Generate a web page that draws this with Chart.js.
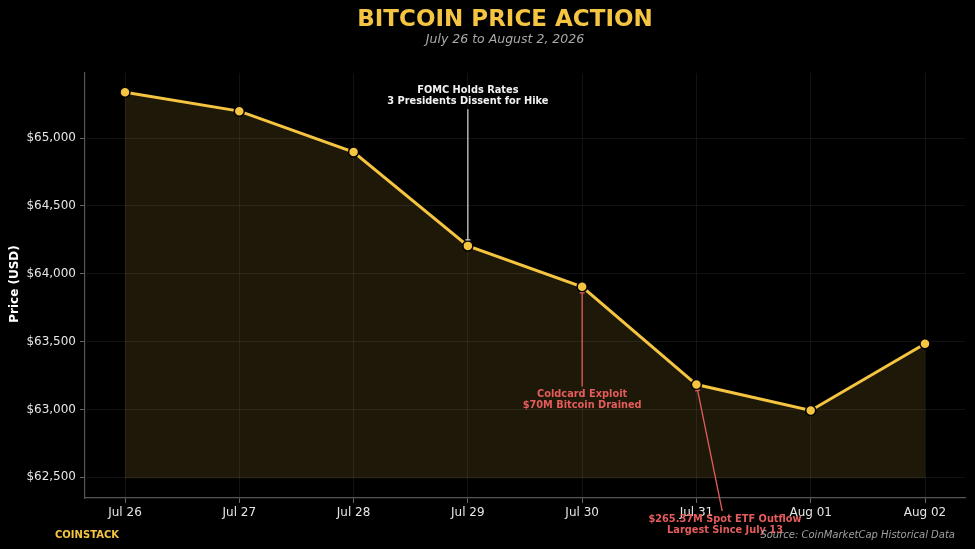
<!DOCTYPE html>
<html>
<head>
<meta charset="utf-8">
<style>
  html, body { margin: 0; padding: 0; background: #000; overflow: hidden; }
  canvas { display: block; }
</style>
<script src="https://cdn.jsdelivr.net/npm/chart.js@4/dist/chart.umd.min.js"></script>
</head>
<body>
<canvas id="btc" width="975" height="549"></canvas>
<script>
// data
const days   = ['Jul 26', 'Jul 27', 'Jul 28', 'Jul 29', 'Jul 30', 'Jul 31', 'Aug 01', 'Aug 02'];
const prices = [65338, 65199, 64897, 64206, 63904, 63184, 62993, 63485];
const yTicks = [62500, 63000, 63500, 64000, 64500, 65000];
const fillFloor = 62493;

// event notes, placed in data coordinates (x = day index, y = price)
const notes = [
  { lines: ['FOMC Holds Rates', '3 Presidents Dissent for Hike'], x: 3, y: 65312, target: 3, color: '#f2f2f2', arrow: '#cccccc' },
  { lines: ['Coldcard Exploit', '$70M Bitcoin Drained'], x: 4, y: 63070, target: 4, color: '#e55c5c', arrow: '#e55c5c' },
  { lines: ['$265.37M Spot ETF Outflow', 'Largest Since July 13'], x: 5.25, y: 62151, target: 5, color: '#e55c5c', arrow: '#e55c5c' }
];

const GOLD = '#f5c542';
const FONT = '"DejaVu Sans", sans-serif';

const decor = {
  id: 'decor',
  beforeDraw(chart) {
    const ctx = chart.ctx;
    ctx.save();
    ctx.fillStyle = '#000';
    ctx.fillRect(0, 0, chart.width, chart.height);
    ctx.restore();
  },
  afterDraw(chart) {
    const ctx = chart.ctx;
    const xs = chart.scales.x, ys = chart.scales.y;
    ctx.save();
    ctx.textAlign = 'center';
    ctx.textBaseline = 'middle';

    // titles
    ctx.fillStyle = GOLD;
    ctx.font = 'bold 23px ' + FONT;
    ctx.fillText('BITCOIN PRICE ACTION', 505, 20);
    ctx.fillStyle = '#a8a8a8';
    ctx.font = 'italic 12.5px ' + FONT;
    ctx.fillText('July 26 to August 2, 2026', 505, 40);

    // y axis title
    ctx.save();
    ctx.translate(15, 284);
    ctx.rotate(-Math.PI / 2);
    ctx.fillStyle = '#ffffff';
    ctx.font = 'bold 12px ' + FONT;
    ctx.fillText('Price (USD)', 0, 0);
    ctx.restore();

    // annotations
    ctx.font = 'bold 9.8px ' + FONT;
    const lh = 11.5;
    notes.forEach(n => {
      const cx = xs.getPixelForValue(n.x), cy = ys.getPixelForValue(n.y);
      const px = xs.getPixelForValue(n.target), py = ys.getPixelForValue(prices[n.target]);
      ctx.fillStyle = n.color;
      n.lines.forEach((t, i) => ctx.fillText(t, cx, cy + (i - (n.lines.length - 1) / 2) * lh));
      const half = n.lines.length * lh / 2 + 2;
      const up = py < cy;
      const sy = up ? cy - half : cy + half;
      const dx = px - cx, dy = py - cy;
      const sx = cx + dx * ((sy - cy) / dy);
      const len = Math.hypot(px - sx, py - sy);
      const ux = (px - sx) / len, uy = (py - sy) / len;
      const ex = px - ux * 6, ey = py - uy * 6;
      ctx.strokeStyle = n.arrow;
      ctx.lineWidth = 1.3;
      ctx.beginPath();
      ctx.moveTo(sx, sy);
      ctx.lineTo(ex, ey);
      ctx.stroke();
      // small bar head
      ctx.beginPath();
      ctx.moveTo(ex - uy * 2.5, ey + ux * 2.5);
      ctx.lineTo(ex + uy * 2.5, ey - ux * 2.5);
      ctx.stroke();
    });

    // footer
    ctx.fillStyle = GOLD;
    ctx.font = 'bold 10px ' + FONT;
    ctx.textAlign = 'left';
    ctx.fillText('COINSTACK', 55, 535);
    ctx.fillStyle = '#a0a0a0';
    ctx.font = 'italic 10px ' + FONT;
    ctx.textAlign = 'right';
    ctx.fillText('Source: CoinMarketCap Historical Data', 955, 535);
    ctx.restore();
  }
};

const gridOpts = {
  color: 'rgba(255,255,255,0.07)',
  borderDash: [1.5, 3],
  tickColor: '#666',
  tickBorderDash: [],
  tickLength: 5
};

new Chart(document.getElementById('btc'), {
  type: 'line',
  data: {
    datasets: [{
      data: prices.map((p, i) => ({ x: i, y: p })),
      borderColor: GOLD,
      borderWidth: 3,
      backgroundColor: 'rgba(245, 197, 66, 0.12)',
      fill: { value: fillFloor },
      tension: 0,
      pointRadius: 5,
      pointBackgroundColor: GOLD,
      pointBorderColor: '#000',
      pointBorderWidth: 1.5
    }]
  },
  options: {
    responsive: false,
    animation: false,
    devicePixelRatio: 1,
    layout: { padding: { top: 73, right: 10, left: 0, bottom: 0 } },
    plugins: { legend: { display: false }, tooltip: { enabled: false } },
    scales: {
      x: {
        type: 'linear',
        min: -0.35,
        max: 7.35,
        afterFit: s => { s.height = 51; },
        afterBuildTicks: s => { s.ticks = days.map((d, i) => ({ value: i })); },
        ticks: {
          color: '#e6e6e6',
          font: { family: FONT, size: 12 },
          padding: 3,
          maxRotation: 0,
          autoSkip: false,
          callback: v => days[v]
        },
        grid: gridOpts,
        border: { color: '#555', width: 1.2 }
      },
      y: {
        min: 62348,
        max: 65480,
        afterFit: s => { s.width = 85; },
        afterBuildTicks: s => { s.ticks = yTicks.map(v => ({ value: v })); },
        ticks: {
          color: '#e6e6e6',
          font: { family: FONT, size: 12 },
          padding: 4,
          autoSkip: false,
          callback: v => '$' + v.toLocaleString('en-US')
        },
        grid: gridOpts,
        border: { color: '#555', width: 1.2 }
      }
    }
  },
  plugins: [decor]
});
</script>
</body>
</html>
